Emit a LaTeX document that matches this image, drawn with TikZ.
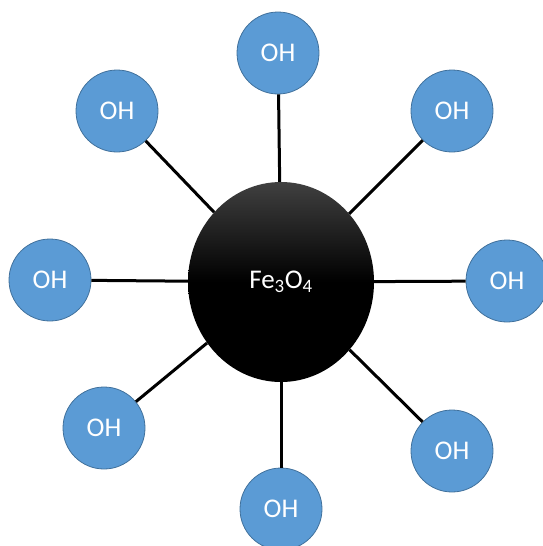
\documentclass[tikz,border=0pt]{standalone}
\usepackage{fontspec}
\setmainfont{Carlito}
\usetikzlibrary{shapes.geometric}
\definecolor{ohfill}{HTML}{5B9BD5}
\definecolor{ohdraw}{HTML}{41719C}
\definecolor{fetop}{HTML}{404040}
\begin{document}
\begin{tikzpicture}[x=1pt,y=-1pt,
  oh/.style={circle, fill=ohfill, draw=ohdraw, line width=0.8pt, minimum size=82pt, inner sep=0pt, text=white, font=\fontsize{27}{32}\selectfont},
  core/.style={ellipse, minimum width=186pt, minimum height=200pt, inner sep=0pt, top color=fetop, bottom color=black, middle color=black, text=white, font=\fontsize{27}{32}\selectfont},
  bond/.style={line width=3pt, black}]
\useasboundingbox (0,0) rectangle (542,546);
\node[core] (fe) at (281,282) {\raisebox{-3pt}{Fe\textsubscript{3}O\textsubscript{4}}};
\node[oh] (n) at (278,53) {OH};
\node[oh] (ne) at (452,111) {OH};
\node[oh] (e) at (507,281) {OH};
\node[oh] (se) at (452,451) {OH};
\node[oh] (s) at (281,509) {OH};
\node[oh] (sw) at (104,428) {OH};
\node[oh] (w) at (50,280) {OH};
\node[oh] (nw) at (117,111) {OH};
\foreach \o in {n,ne,e,se,s,sw,w,nw}
  \draw[bond] (\o) -- (fe);
\end{tikzpicture}
\end{document}
